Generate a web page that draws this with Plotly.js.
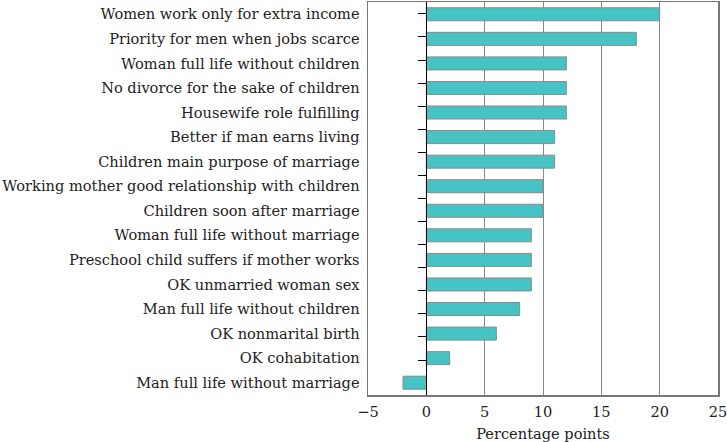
<!DOCTYPE html>
<html>
<head>
<meta charset="utf-8">
<script src="https://cdn.plot.ly/plotly-3.0.1.min.js"></script>
<style>
  html, body { margin: 0; padding: 0; background: #fff; }
  #chart { width: 727px; height: 442px; }
</style>
</head>
<body>
<div id="chart"></div>
<script>
// attitudes, top to bottom
const statements = [
  'Women work only for extra income',
  'Priority for men when jobs scarce',
  'Woman full life without children',
  'No divorce for the sake of children',
  'Housewife role fulfilling',
  'Better if man earns living',
  'Children main purpose of marriage',
  'Working mother good relationship with children',
  'Children soon after marriage',
  'Woman full life without marriage',
  'Preschool child suffers if mother works',
  'OK unmarried woman sex',
  'Man full life without children',
  'OK nonmarital birth',
  'OK cohabitation',
  'Man full life without marriage'
];
const points = [20, 18, 12, 12, 12, 11, 11, 10, 10, 9, 9, 9, 8, 6, 2, -2];
const xTicks = [-5, 0, 5, 10, 15, 20, 25];
const xTickText = ['\u22125', '0', '5', '10', '15', '20', '25'];

const serif = 'DejaVu Serif, Liberation Serif, serif';
const textFont = { family: serif, size: 14.6, color: '#222' };

const bars = {
  type: 'bar',
  orientation: 'h',
  x: points,
  y: statements,
  marker: { color: '#45c3c5', line: { color: '#8a8a8a', width: 1 } },
  hoverinfo: 'x+y'
};

// invisible trace so the second axis (zero line with ticks) gets the categories
const tickHolder = {
  type: 'scatter',
  mode: 'markers',
  x: points.map(() => 0),
  y: statements,
  yaxis: 'y2',
  marker: { opacity: 0 },
  hoverinfo: 'skip',
  showlegend: false
};

const layout = {
  width: 727,
  height: 442,
  margin: { l: 368, r: 9, t: 2, b: 47 },
  paper_bgcolor: '#fff',
  plot_bgcolor: '#fff',
  showlegend: false,
  bargap: 0.47,
  font: textFont,
  xaxis: {
    range: [-5, 25],
    tickvals: xTicks,
    ticktext: xTickText,
    showgrid: true,
    gridcolor: '#888',
    gridwidth: 1,
    zeroline: false,
    showline: true,
    mirror: true,
    linecolor: '#777',
    linewidth: 1.5,
    ticks: '',
    ticklabelstandoff: 3,
    ticklabeloverflow: 'allow',
    tickfont: textFont,
    title: { text: 'Percentage points', font: textFont, standoff: 11 }
  },
  yaxis: {
    type: 'category',
    categoryarray: statements,
    autorange: 'reversed',
    showgrid: false,
    zeroline: false,
    showline: true,
    mirror: true,
    linecolor: '#777',
    linewidth: 1.5,
    ticks: '',
    ticklabelstandoff: 4,
    tickfont: textFont
  },
  yaxis2: {
    type: 'category',
    categoryarray: statements,
    autorange: 'reversed',
    overlaying: 'y',
    anchor: 'free',
    position: 5 / 30,
    side: 'left',
    showgrid: false,
    zeroline: false,
    showline: true,
    linecolor: '#000',
    linewidth: 1,
    ticks: 'outside',
    tickson: 'boundaries',
    ticklen: 8,
    tickcolor: '#000',
    tickwidth: 1,
    showticklabels: false
  }
};

Plotly.newPlot('chart', [bars, tickHolder], layout, { displayModeBar: false, staticPlot: true });
</script>
</body>
</html>
